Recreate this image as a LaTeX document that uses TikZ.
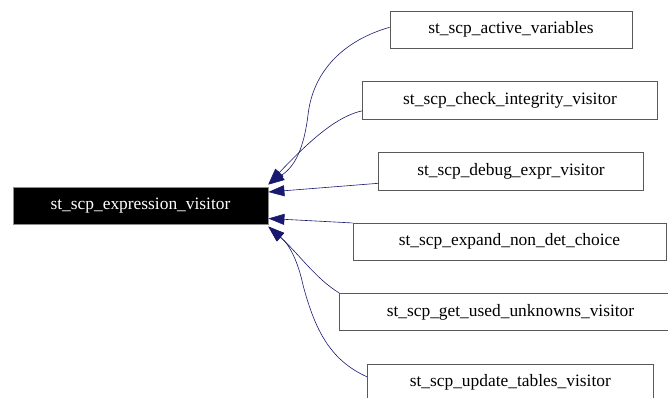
\documentclass[tikz,border=0pt]{standalone}
\usepackage{fontspec}
\setmainfont{Liberation Serif}
\usetikzlibrary{arrows.meta}
\definecolor{edgeblue}{HTML}{191970}
\tikzset{
  cls/.style={draw=black!65, line width=0.8pt, fill=white, inner sep=0pt, font=\fontsize{17.4}{19}\selectfont},
  mainbox/.style={draw=black!45, line width=0.8pt, fill=black, text=white, inner sep=0pt, font=\fontsize{17.4}{19}\selectfont},
  inh/.style={draw=edgeblue, line width=0.6pt, arrows={-{Triangle[length=16pt,width=11pt,fill=edgeblue]}}}
}
\begin{document}
\begin{tikzpicture}[x=1pt,y=-1pt]
\useasboundingbox (0,0) rectangle (668,397);
\clip (0,0) rectangle (668,397);
\node[mainbox, minimum width=255pt, minimum height=37pt] (main) at (140.5,205.5) {st\_scp\_expression\_visitor};
\node[cls, minimum width=242pt, minimum height=37pt] (a) at (511,29.8) {st\_scp\_active\_variables};
\node[cls, minimum width=294.6pt, minimum height=37.3pt] (b) at (510,100.3) {st\_scp\_check\_integrity\_visitor};
\node[cls, minimum width=264.6pt, minimum height=37.3pt] (c) at (511,171.3) {st\_scp\_debug\_expr\_visitor};
\node[cls, minimum width=313pt, minimum height=36.7pt] (d) at (509.5,241.7) {st\_scp\_expand\_non\_det\_choice};
\node[cls, minimum width=342pt, minimum height=37.4pt] (e) at (510.5,312) {st\_scp\_get\_used\_unknowns\_visitor};
\node[cls, minimum width=286pt, minimum height=37pt] (f) at (510.3,382.8) {st\_scp\_update\_tables\_visitor};
% edges (child -> parent)
\draw[inh] ([yshift=2.5pt]a.west) .. controls (345,40) and (313,70) .. (308,115) .. controls (303,155) and (292,168) .. ([yshift=2pt]main.north east);
\draw[inh] ([yshift=-10.5pt]b.west) .. controls (338,116) and (312,138) .. ([yshift=2.5pt]main.north east);
\draw[inh] ([yshift=-12pt]c.west) -- ([yshift=13.5pt]main.east);
\draw[inh] (d.north west) -- ([yshift=-13pt]main.east);
\draw[inh] (e.north west) .. controls (315,278) and (300,255) .. ([yshift=-2pt]main.south east);
\draw[inh] ([yshift=6pt]f.west) .. controls (330,360) and (315,330) .. (303,285) .. controls (298,262) and (290,245) .. ([yshift=-2.5pt]main.south east);
\end{tikzpicture}
\end{document}
